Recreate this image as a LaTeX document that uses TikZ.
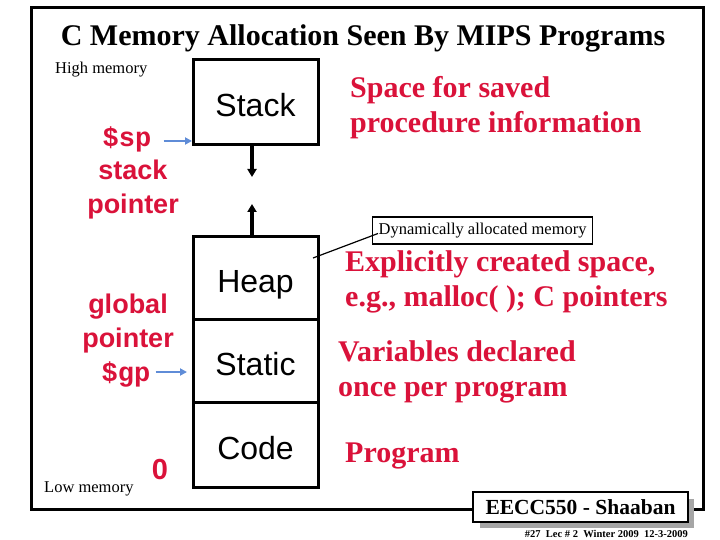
\documentclass[tikz,border=0pt]{standalone}
\usepackage{fontspec}
\setmainfont{Liberation Serif}
\setsansfont{Liberation Sans}
\setmonofont{Liberation Mono}
\usetikzlibrary{arrows.meta,calc}
\definecolor{memred}{RGB}{218,18,58}
\definecolor{ptrblue}{RGB}{95,140,215}
\tikzset{
  membox/.style={draw=black,line width=3pt,minimum width=125pt,inner sep=0pt,font=\sffamily\fontsize{32}{34}\selectfont,text height=29pt,text depth=0pt},
  redserif/.style={text=memred,font=\bfseries\fontsize{30}{35}\selectfont,align=left,inner sep=0pt,anchor=west},
  redsans/.style={text=memred,font=\sffamily\bfseries\fontsize{27}{34}\selectfont,align=center,inner sep=0pt},
  redmono/.style={text=memred,font=\ttfamily\bfseries\fontsize{27}{30}\selectfont,inner sep=0pt},
  smalltext/.style={font=\fontsize{16.5}{18}\selectfont,inner sep=0pt},
  ptrarrow/.style={draw=ptrblue,line width=2.2pt,-{Triangle[width=7pt,length=7pt]}},
  growarrow/.style={draw=black,line width=3.5pt,-{Triangle[width=9pt,length=8pt]}}
}
\begin{document}
\begin{tikzpicture}[x=1pt,y=-1pt]
\useasboundingbox (0,0) rectangle (720,540);
\fill[white] (0,0) rectangle (720,540);
% frame
\draw[line width=3pt] (31,8) rectangle (703,509);
% title
\node[font=\bfseries\fontsize{30}{34}\selectfont,inner sep=0pt] (title) at (363,38) {C Memory Allocation Seen By MIPS Programs};
\node[smalltext,anchor=west] (high) at (55,70) {High memory};
\node[smalltext,anchor=west] (low) at (44,489) {Low memory};
% memory boxes
\node[membox,minimum height=85pt] (stack) at (255.5,102.5) {Stack};
\node[membox,minimum height=83pt] (heap) at (255.5,277.5) {Heap};
\node[membox,minimum height=83pt] (static) at (255.5,360.5) {Static};
\node[membox,minimum height=85pt] (code) at (255.5,444.5) {Code};
% growth arrows
\coordinate (stackgrow) at (252,177);
\coordinate (heapgrow) at (252,204);
\draw[growarrow] (stack.south -| stackgrow) -- (stackgrow);
\draw[growarrow] (heap.north -| heapgrow) -- (heapgrow);
% left labels
\node[redmono] (sp) at (127,139) {\$sp};
\node[redsans] (spname) at (133,190) {stack\\pointer};
\node[redsans] (gp) at (128,324) {global\\pointer};
\node[redmono] (gpreg) at (126,374) {\$gp};
\node[redsans,font=\sffamily\bfseries\fontsize{29}{30}\selectfont] (zero) at (160,470) {0};
\coordinate (spend) at (192,141);
\coordinate (gpend) at (187,372);
\draw[ptrarrow] (sp.east |- spend) ++(12,0) -- (spend);
\draw[ptrarrow] (gpreg.east |- gpend) ++(5,0) -- (gpend);
% right descriptions
\node[redserif] (d1) at (350,107.5) {Space for saved\\procedure information};
\node[redserif] (d2) at (345,281.5) {Explicitly created space,\\e.g., malloc( ); C pointers};
\node[redserif] (d3) at (338,371.5) {Variables declared\\once per program};
\node[redserif] (d4) at (345,456) {Program};
% callout
\node[draw=black,line width=1.2pt,font=\fontsize{16.5}{18}\selectfont,inner xsep=3pt,minimum height=27pt,minimum width=220pt,anchor=west] (dyn) at (372,230.5) {Dynamically allocated memory};
\coordinate (heappt) at (313,258);
\draw[line width=1.2pt] (heappt) -- ($(dyn.west)+(6,3)$);
% footer
\fill[gray!70] (480,499) rectangle (694,528);
\node[draw=black,fill=white,line width=1.5pt,font=\bfseries\fontsize{21.5}{23}\selectfont,minimum width=215pt,minimum height=30pt,inner sep=0pt] (badge) at (580.5,507) {EECC550 - Shaaban};
\node[font=\bfseries\fontsize{10.5}{11}\selectfont,inner sep=0pt,anchor=east] (foot) at (688,534) {\#27\ \ Lec \# 2\ \ Winter 2009\ \ 12-3-2009};
\end{tikzpicture}
\end{document}
